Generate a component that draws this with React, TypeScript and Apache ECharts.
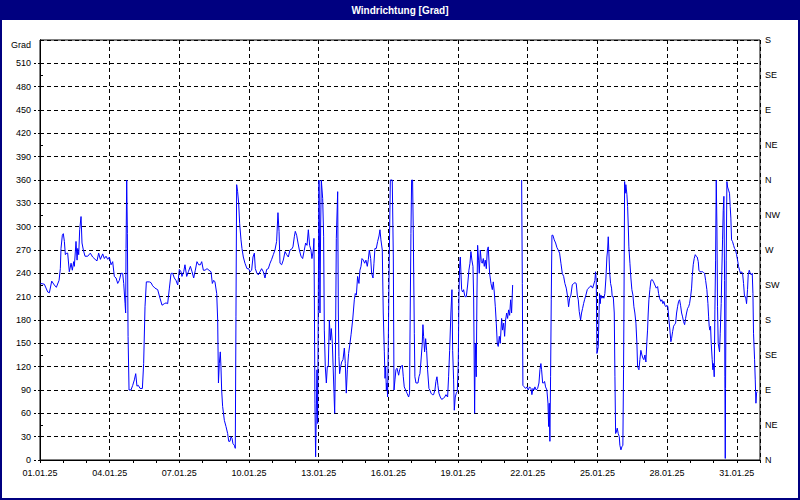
import React, { useEffect, useRef } from "react";
import * as echarts from "echarts";

// Hours since 01.01.2025 00:00 and wind direction in degrees (null = gap in the record)
const hours: number[] = [
  0.5, 4.5, 8.0, 9.7, 12.1, 14.8, 16.9, 19.7, 21.0, 21.7, 23.1, 24.1, 25.2, 26.2, 27.6, 28.6, 30.3, 32.1, 33.4, 34.8,
  35.5, 37.2, 38.3, 39.0, 40.0, 41.0, 42.4, 43.4, 44.8, 46.5, 49.3, 52.0, 54.4, 56.9, 58.9, 60.6, 62.4, 64.8, 66.5, 68.2,
  70.0, 71.7, 73.4, 75.1, 76.8, 78.6, 80.3, 82.0, 83.7, 85.4, 86.5, 87.9, 88.5, 88.9, 89.6, 90.3, 91.0, 92.0, 94.0, 95.8,
  97.5, 98.9, 100.2, 101.6, 103.4, 105.8, 107.1, 108.5, 109.9, 113.0, 114.7, 116.4, 118.8, 121.6, 124.0, 126.1, 128.5, 130.2, 131.9, 133.7,
  135.4, 137.1, 138.8, 140.5, 142.3, 144.0, 145.7, 146.7, 148.5, 149.8, 151.6, 153.3, 155.4, 157.1, 158.8, 160.5, 162.2, 164.0, 165.7, 167.1,
  168.8, 170.5, 172.6, 174.6, 176.7, 178.1, 179.5, 180.8, 182.6, 183.6, 184.4, 185.3, 186.3, 187.0, 187.7,
  188.7, 190.5, 192.2, 193.9, 195.0, 196.3, 197.4, 198.4, 199.4, 200.8, 201.8, 202.5, 203.2, 204.2, 205.3, 206.3, 207.7, 208.7, 210.1, 211.8,
  213.9, 215.6, 217.0, 218.7, 220.1, 221.5, 222.5, 224.2, 225.6, 227.3, 229.0, 230.8, 232.5, 234.2, 235.9, 237.7, 239.4, 241.1, 242.8, 244.5,
  245.9, 247.0, 248.0, 249.7, 251.4, 253.2, 254.9, 256.6, 258.3, 260.0, 261.4, 262.8, 263.8, 265.2, 266.6, 268.0, 269.7, 271.4, 273.1, 274.5,
  275.9, 277.3, 278.6, 280.0, 281.0, 282.4, 283.1, 283.5, 284.1, 284.8, 285.5, 286.2, 286.9, 287.6, 288.3, 289.0, 289.3, 290.0, 290.7, 291.4,
  292.1, 293.1, 293.8, 294.8, 295.9, 296.9, 297.9, 299.0, 300.0, 301.0, 302.1, 302.7, 303.8, 304.5, 305.2, 306.2, 307.6, 308.3, 308.9, 309.6,
  310.7, 311.7, 313.1, 314.5, 315.5, 316.5, 317.6, 318.9, 320.3, 321.4, 323.1, 324.8, 325.8, 326.9, 328.2, 329.6, 330.6, 331.7, 332.7, 334.1,
  335.5, 336.8, 338.2, 339.3, 340.3, 341.7, 342.7, 344.1, 345.1, 346.1, 347.5, 348.9, 350.3, 351.3, 352.3, 353.7, 354.7, 355.8, 356.5, 357.2,
  357.9, 358.5, 359.2, 359.9, 360.9, 362.0, 364.0, 365.1, 365.8, 366.8, 367.8, 368.9,
  370.6, 371.6, 373.0, 374.4, 375.4, 376.4, 377.8, 379.2, 380.9, 381.9, 382.3, 383.3, 384.0, 385.0, 385.7, 386.8, 387.4, 388.5, 389.5, 390.6,
  391.6, 392.6, 393.6, 395.0, 395.7, 396.4, 397.4, 398.5, 399.5, 400.5, 401.9, 402.9, 404.0, 405.4, 406.7, 408.1, 409.1, 410.2, 411.2, 412.2,
  413.6, 415.0, 416.7, 418.1, 419.5, 421.2, 422.2, 423.3, 424.6, 425.7, 426.4, 427.4, 428.1, 429.1, 430.2, 431.2, 432.2, 432.9, 433.6, 434.3,
  435.0, 435.7, 436.7, 437.7, 439.1, 440.5, 441.9, 443.2, 444.3, 445.3, 446.3, 447.4, 448.1, 449.1, 449.8, 450.8, 451.5, 452.2, 453.2, 453.9,
  455.0, 456.0, 457.0, 458.1, 459.1, 460.1, 461.2, 462.2, 463.2, 464.6, 466.0, 467.4, 468.4, 469.4, 470.5, 471.5, 472.5, 473.5, 474.6, 475.6,
  477.0, 478.0, 479.1, 480.1, 481.1, 482.2, 483.2, 484.2, 485.3, 486.3, 487.3, 488.4, 493.0,
  497.7, 498.4, 499.0, 500.4, 501.8, 503.2, 504.5, 505.9, 507.3, 508.3, 509.4, 510.4, 511.4, 512.8, 514.2, 515.6, 516.6, 517.6, 518.3, 519.4,
  520.4, 521.4, 522.4, 523.8, 524.9, 525.6, 526.2, 526.9, 527.6, 528.3, 529.0, 530.0, 531.4, 532.8, 534.2, 535.5, 536.9, 538.3, 539.7, 541.1,
  542.4, 543.8, 545.2, 546.2, 547.3, 548.6, 550.0, 551.4, 552.8, 554.1, 555.2, 556.2, 557.2,
  558.6, 559.6, 560.7, 561.7, 562.7, 564.1, 565.5, 566.9, 568.2, 569.6, 571.0, 572.0, 573.4, 574.1, 574.8, 575.5, 576.2, 576.9, 577.5, 578.2,
  578.9, 579.6, 580.6, 581.7, 582.7, 583.7, 584.8, 585.8, 586.5, 587.2, 587.9, 588.6, 589.6, 590.6, 591.3, 592.4, 593.4, 594.1, 594.8, 595.5,
  596.5, 597.5, 598.6, 599.2, 600.3, 601.3, 602.3, 603.0, 603.4, 604.1, 604.7, 605.4, 606.5, 607.2, 607.9, 608.5, 609.6, 610.6, 611.6, 612.7,
  613.7, 614.7, 615.8, 616.8, 617.5, 618.2, 618.9, 619.9, 620.9, 622.0, 623.0, 624.0, 625.1, 626.1, 627.1, 627.8, 628.5, 629.2, 630.2, 631.3,
  632.6, 634.0, 635.4, 636.8, 638.2, 639.2, 640.2, 641.6, 642.6, 643.7, 644.7, 645.7, 646.8, 647.8, 648.8, 649.9, 650.9, 651.9, 652.6, 653.7,
  654.7, 655.7, 656.8, 657.8, 658.8, 659.9, 660.9, 661.9, 663.0, 664.0, 665.0, 666.1, 667.1, 668.1, 669.2, 670.2, 671.2, 672.3, 673.3, 674.0,
  675.0, 676.0, 677.1, 678.1, 679.1, 680.2, 680.9, 681.9, 683.3, 684.7, 685.7, 686.7, 687.8, 689.1, 690.2, 690.9, 691.5, 692.2, 692.9, 693.6,
  694.6, 695.3, 696.0, 696.7, 697.4, 698.1, 698.8, 699.5, 700.1, 700.8, 701.5, 702.2, 702.9, 703.9, 704.6, 705.3, 706.0, 706.7, 707.4, 707.7,
  708.1, 708.4, 709.1, 709.8, 710.5, 711.5, 712.5, 713.2, 713.9, 714.6, 715.6, 716.7, 717.7, 718.7, 719.8, 720.8, 721.8, 722.9, 723.9, 724.9,
  726.0, 727.0, 728.0, 729.1, 730.1, 731.1, 731.8, 732.9, 733.9, 734.9, 736.0, 736.7, 737.3, 738.4, 739.1, 739.8, 740.4, 741.1,
];

const dirs: (number | null)[] = [
  227, 226, 216, 215, 230, 225, 222, 231, 246, 272, 289, 291, 281, 264, 266, 266, 242, 253, 244, 255,
  249, 281, 257, 272, 264, 296, 313, 279, 270, 262, 262, 266, 261, 258, 256, 266, 258, 265, 259, 262,
  258, 261, 251, 255, 236, 234, 227, 231, 240, 240, 227, 201, 189, 272, 360, 291, 159, 90, 90, 96,
  103, 111, 95, 96, 92, 92, 124, 197, 229, 229, 228, 224, 221, 219, 208, 199, 201, 202, 201, 221,
  240, 240, 234, 231, 225, 245, 242, 236, 242, 251, 236, 242, 249, 242, 234, 244, 255, 251, 251, 255,
  244, 244, 246, 244, 242, 227, 231, 229, 214, 180, 99, 124, 139, 120, 90,
  69, 51, 43, 34, 24, 24, 30, 28, 21, 19, 15, 184, 354, 345, 330, 304, 283, 272, 261, 253,
  246, 246, 242, 244, 261, 266, 246, 240, 238, 242, 246, 242, 234, 245, 246, 253, 258, 264, 270, 281,
  318, 294, 253, 251, 257, 268, 264, 261, 270, 271, 274, 287, 294, 289, 279, 270, 262, 259, 270, 279,
  276, 296, 276, 270, 259, 270, 285, 210, 73, 4, 4, 116, 47, 210, 360, 244, 189, 300, 360, 360,
  336, 287, 167, 120, 99, 120, 120, 180, 154, 169, 150, 150, 86, 60, 120, 285, 345, 189, 133, 111,
  120, 126, 129, 144, 124, 86, 116, 137, 150, 161, 180, 206, 214, 212, 236, 227, 244, 249, 259, 257,
  253, 257, 249, 258, 270, 259, 240, 234, 253, 272, 272, 281, 288, 296, 283, 270, 189, 139, 105, 120,
  90, 99, 81, 150, 259, 360, 360, 261, 90, 103, 116, 118,
  109, 116, 120, 122, 107, 94, 90, 86, 81, 86, 154, 291, 360, 360, 296, 163, 107, 99, 99, 99,
  107, 111, 126, 150, 174, 159, 139, 156, 141, 116, 92, 90, 86, 84, 84, 90, 101, 107, 96, 86,
  81, 78, 79, 81, 84, 81, 107, 141, 189, 219, 141, 103, 64, 81, 86, 88, 124, 210, 249, 261,
  240, 219, 216, 219, 210, 210, 225, 244, 253, 268, 257, 249, 210, 60, 150, 107, 210, 276, 257, 240,
  270, 255, 253, 259, 249, 257, 246, 270, 274, 240, 227, 219, 229, 216, 197, 176, 150, 146, 159, 150,
  182, 167, 176, 159, 180, 189, 182, 193, 186, 206, 189, 225, null,
  360, 227, 96, 94, 92, 94, 90, 94, 92, 84, 92, 90, 94, 90, 92, 99, 116, 124, 116, 99,
  99, 101, 94, 90, 73, 43, 73, 24, 107, 206, 289, 289, 283, 279, 273, 270, 266, 253, 240, 236,
  227, 221, 210, 197, 208, 212, 225, 227, 228, 227, 212, 206, 191,
  180, 189, 195, 201, 206, 212, 219, 221, 223, 224, 221, 225, 231, 242, 231, 137, 141, 146, 180, 214,
  201, 212, 208, 210, 208, 214, 234, 261, 270, 287, 266, 242, 227, 221, 210, 210, 189, 107, 34, 36,
  41, 34, 30, 19, 13, 17, 19, 116, 189, 358, 343, 354, 341, 326, 300, 274, 253, 234, 219, 212,
  197, 189, 176, 150, 120, 118, 116, 129, 141, 135, 131, 129, 135, 126, 152, 167, 189, 206, 219, 231,
  232, 229, 225, 221, 223, 214, 208, 204, 206, 201, 204, 199, 197, 199, 197, 180, 167, 152, 156, 165,
  172, 174, 176, 189, 197, 204, 206, 199, 189, 184, 178, 174, 182, 189, 195, 197, 201, 210, 221, 236,
  251, 259, 264, 262, 261, 255, 244, 242, 242, 242, 241, 240, 231, 219, 201, 184, 172, 167, 172, 150,
  129, 116, 124, 107, 193, 257, 360, 300, 197, 150, 150, 139, 163, 201, 244, 283, 321, 339, 231, 107,
  2, 92, 257, 358, 351, 347, 343, 326, 311, 283, 281, 276, 272, 270, 264, 257, 249, 244, 240, 242,
  240, 227, 210, 210, 201, 219, 238, 244, 240, 238, 240, 214, 163, 129, 103, 73, 86, 88,
];

const compassLabels = ["N", "NE", "E", "SE", "S", "SW", "W", "NW", "N", "NE", "E", "SE", "S"];
const chartTitle = "Windrichtung [Grad]";
const unitLabel = "Grad";
const startMs = Date.UTC(2025, 0, 1);

const FONT = "'Liberation Sans', Arial, sans-serif";
const pad = (n: number) => (n < 10 ? "0" + n : "" + n);

export default function App() {
  const ref = useRef<HTMLDivElement>(null);
  useEffect(() => {
    if (!ref.current) return;
    const chart = echarts.init(ref.current, undefined, { renderer: "svg" });
    const data = hours.map((h, i) => [h, dirs[i]]);
    chart.setOption({
      animation: false,
      backgroundColor: "#ffffff",
      grid: { left: 40, right: 40, top: 40, bottom: 40, show: true, borderColor: "#000", borderWidth: 1 },
      xAxis: [
        {
          type: "value",
          min: 0,
          max: 744,
          interval: 24,
          position: "bottom",
          axisLine: { show: true, lineStyle: { color: "#000", width: 1 } },
          axisTick: { show: true, length: 3, lineStyle: { color: "#000" } },
          axisLabel: {
            color: "#000",
            fontSize: 9,
            fontFamily: FONT,
            margin: 8,
            formatter: (v: number) => {
              if (Math.round(v) % 72 !== 0) return "";
              const d = new Date(startMs + v * 3600e3);
              return pad(d.getUTCDate()) + "." + pad(d.getUTCMonth() + 1) + "." + String(d.getUTCFullYear()).slice(2);
            },
          },
          splitLine: { show: false },
        },
        {
          type: "value",
          min: 0,
          max: 744,
          interval: 72,
          position: "bottom",
          axisLine: { show: false },
          axisTick: { show: false },
          axisLabel: { show: false },
          splitLine: { show: true, lineStyle: { color: "#000", width: 1, type: [4, 3] } },
        },
      ],
      yAxis: [
        {
          type: "value",
          min: 0,
          max: 540,
          interval: 30,
          position: "left",
          axisLine: { show: true, lineStyle: { color: "#000", width: 1 } },
          axisTick: { show: true, length: 7, lineStyle: { color: "#000", type: [2, 2] } },
          axisLabel: { color: "#000", fontSize: 9, fontFamily: FONT, margin: 9, showMaxLabel: false },
          splitLine: { show: true, lineStyle: { color: "#000", width: 1, type: [4, 3] } },
        },
        {
          type: "value",
          min: 0,
          max: 540,
          interval: 45,
          position: "right",
          axisLine: { show: true, lineStyle: { color: "#000", width: 1 } },
          axisTick: { show: true, length: 3, lineStyle: { color: "#000" } },
          axisLabel: {
            color: "#000",
            fontSize: 9,
            fontFamily: FONT,
            margin: 5,
            formatter: (v: number) => compassLabels[Math.round(v / 45)] ?? "",
          },
          splitLine: { show: false },
        },
      ],
      graphic: [
        { type: "rect", shape: { x: 0, y: 0, width: 800, height: 20 }, style: { fill: "#000080" }, z: 10 },
        {
          type: "text",
          x: 400,
          y: 10,
          style: { text: chartTitle, fill: "#fff", font: "bold 10px " + FONT, align: "center", verticalAlign: "middle" },
          z: 11,
        },
        {
          type: "rect",
          shape: { x: 1, y: 1, width: 798, height: 498 },
          style: { fill: "none", stroke: "#000080", lineWidth: 2 },
          z: 10,
        },
        {
          type: "text",
          x: 31,
          y: 45,
          style: { text: unitLabel, fill: "#000", font: "9px " + FONT, align: "right", verticalAlign: "middle" },
          z: 11,
        },
      ],
      series: [
        {
          type: "line",
          xAxisIndex: 0,
          yAxisIndex: 0,
          data,
          showSymbol: false,
          symbol: "none",
          connectNulls: false,
          lineStyle: { color: "#0000ff", width: 1 },
          z: 5,
        },
      ],
    });
    return () => chart.dispose();
  }, []);
  return <div ref={ref} style={{ position: "fixed", left: 0, top: 0, width: 800, height: 500 }} />;
}
